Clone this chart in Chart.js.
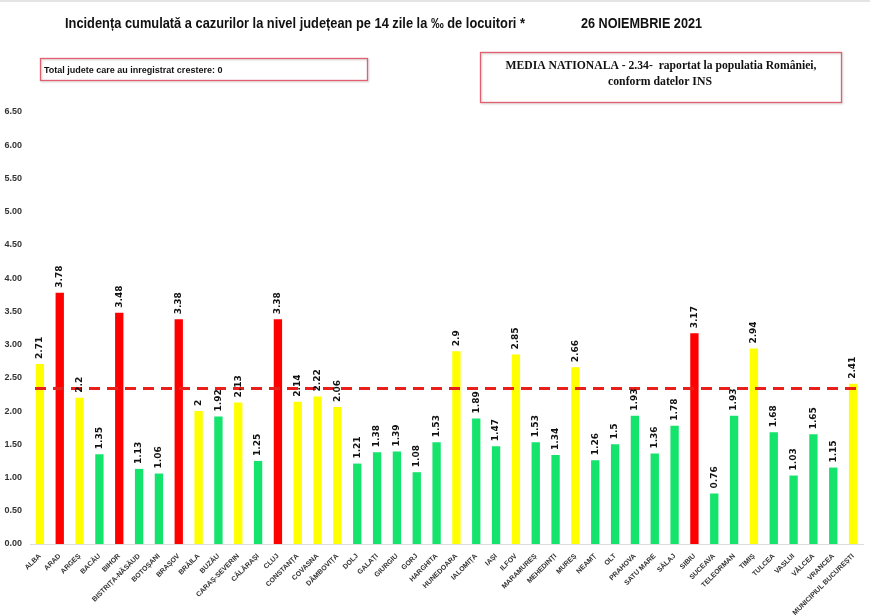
<!DOCTYPE html>
<html>
<head>
<meta charset="utf-8">
<script src="https://cdn.jsdelivr.net/npm/chart.js@4.4.1/dist/chart.umd.min.js"></script>
<style>
  html, body { margin: 0; padding: 0; background: #fff; }
  #wrap { width: 870px; height: 616px; position: relative; }
</style>
</head>
<body>
<div id="wrap"><canvas id="chart" width="870" height="616"></canvas></div>
<script>
// Judete (categories)
const counties = [
  'ALBA', 'ARAD', 'ARGEȘ', 'BACĂU', 'BIHOR', 'BISTRIȚA-NĂSĂUD', 'BOTOȘANI', 'BRAȘOV',
  'BRĂILA', 'BUZĂU', 'CARAȘ-SEVERIN', 'CĂLĂRAȘI', 'CLUJ', 'CONSTANȚA', 'COVASNA',
  'DÂMBOVIȚA', 'DOLJ', 'GALAȚI', 'GIURGIU', 'GORJ', 'HARGHITA', 'HUNEDOARA', 'IALOMIȚA',
  'IAȘI', 'ILFOV', 'MARAMUREȘ', 'MEHEDINȚI', 'MUREȘ', 'NEAMȚ', 'OLT', 'PRAHOVA',
  'SATU MARE', 'SĂLAJ', 'SIBIU', 'SUCEAVA', 'TELEORMAN', 'TIMIȘ', 'TULCEA', 'VASLUI',
  'VÂLCEA', 'VRANCEA', 'MUNICIPIUL BUCUREȘTI'
];

// Incidenta la 1000 de locuitori
const incidence = [
  2.71, 3.78, 2.2, 1.35, 3.48, 1.13, 1.06, 3.38,
  2, 1.92, 2.13, 1.25, 3.38, 2.14, 2.22,
  2.06, 1.21, 1.38, 1.39, 1.08, 1.53, 2.9, 1.89,
  1.47, 2.85, 1.53, 1.34, 2.66, 1.26, 1.5, 1.93,
  1.36, 1.78, 3.17, 0.76, 1.93, 2.94, 1.68, 1.03,
  1.65, 1.15, 2.41
];

const nationalAverage = 2.34;
const yTicks = { min: 0, max: 6.5, step: 0.5 };

const titleText = 'Incidența cumulată a cazurilor la nivel județean pe 14 zile la ‰ de locuitori *';
const dateText = '26 NOIEMBRIE 2021';
const increaseText = 'Total judete care au inregistrat crestere: 0';
const averageLines = ['MEDIA NATIONALA - 2.34-  raportat la populatia României,', 'conform datelor INS'];

const colors = {
  red: '#ff0000',
  yellow: '#ffff00',
  green: '#14e36c',
  tick: '#333333',
  box: '#e06070'
};

// Excel-style colouring by threshold
function barColor(v) {
  if (v >= 3) return colors.red;
  if (v >= 2) return colors.yellow;
  return colors.green;
}

// Draw text squeezed horizontally to a given width
function fitText(ctx, text, x, y, width, align) {
  const w = ctx.measureText(text).width;
  const sx = Math.min(1, width / w);
  ctx.save();
  ctx.translate(x, y);
  ctx.scale(sx, 1);
  ctx.textAlign = align || 'left';
  ctx.fillText(text, 0, 0);
  ctx.restore();
}

const headerPlugin = {
  id: 'header',
  afterDraw(chart) {
    const ctx = chart.ctx;
    ctx.save();

    // faint frame line at the top of the slide
    ctx.fillStyle = '#e4e4e4';
    ctx.fillRect(0, 0, 870, 2);

    ctx.fillStyle = '#111';
    ctx.textBaseline = 'alphabetic';
    ctx.font = 'bold 15px "Liberation Sans Narrow", sans-serif';
    fitText(ctx, titleText, 65, 28, 460);
    fitText(ctx, dateText, 581, 28, 121);

    // boxes
    ctx.save();
    ctx.shadowColor = 'rgba(0,0,0,0.18)';
    ctx.shadowBlur = 2;
    ctx.shadowOffsetX = 1;
    ctx.shadowOffsetY = 1;
    ctx.strokeStyle = colors.box;
    ctx.lineWidth = 1.3;
    ctx.strokeRect(40.5, 58.5, 327, 22);
    ctx.strokeRect(480.5, 52.5, 361, 50);
    ctx.restore();

    ctx.font = 'bold 9px "Liberation Sans Narrow", sans-serif';
    fitText(ctx, increaseText, 44, 73, 184);

    ctx.font = 'bold 12px "Liberation Serif", serif';
    fitText(ctx, averageLines[0], 661, 69, 311, 'center');
    fitText(ctx, averageLines[1], 660, 85, 104, 'center');
    ctx.restore();
  }
};

const avgLinePlugin = {
  id: 'avgLine',
  afterDatasetsDraw(chart) {
    const { ctx, chartArea, scales } = chart;
    const y = scales.y.getPixelForValue(nationalAverage);
    ctx.save();
    ctx.strokeStyle = '#e8201c';
    ctx.lineWidth = 3;
    ctx.setLineDash([11, 7]);
    ctx.beginPath();
    ctx.moveTo(chartArea.left + 5, y);
    ctx.lineTo(chartArea.right, y);
    ctx.stroke();
    ctx.restore();
  }
};

const valueLabelPlugin = {
  id: 'valueLabels',
  afterDraw(chart) {
    const ctx = chart.ctx;
    const meta = chart.getDatasetMeta(0);
    ctx.save();
    ctx.fillStyle = '#111';
    ctx.font = 'bold 9px "DejaVu Sans", sans-serif';
    ctx.textAlign = 'left';
    ctx.textBaseline = 'middle';
    meta.data.forEach((bar, i) => {
      ctx.save();
      ctx.translate(bar.x, bar.y - 5);
      ctx.rotate(-Math.PI / 2);
      ctx.fillText(String(incidence[i]), 0, 0);
      ctx.restore();
    });
    ctx.restore();
  }
};

new Chart(document.getElementById('chart'), {
  type: 'bar',
  data: {
    labels: counties,
    datasets: [{
      data: incidence,
      backgroundColor: incidence.map(barColor),
      borderWidth: 0,
      barPercentage: 0.42,
      categoryPercentage: 1
    }]
  },
  options: {
    responsive: false,
    animation: false,
    layout: { padding: { top: 112, right: 7, bottom: 0, left: 0 } },
    scales: {
      x: {
        grid: { display: false },
        border: { display: true, color: '#dddddd', width: 1 },
        afterFit: (scale) => { scale.height = 72; },
        ticks: {
          autoSkip: false,
          maxRotation: 45,
          minRotation: 45,
          padding: 0,
          color: colors.tick,
          font: { family: '"Liberation Sans", sans-serif', size: 7, weight: 'bold' }
        }
      },
      y: {
        min: yTicks.min,
        max: yTicks.max,
        grid: { display: false },
        border: { display: false },
        afterFit: (scale) => { scale.width = 30; },
        ticks: {
          stepSize: yTicks.step,
          padding: 0,
          color: colors.tick,
          font: { family: '"Liberation Sans", sans-serif', size: 9, weight: 'bold' },
          callback: (v) => Number(v).toFixed(2)
        }
      }
    },
    plugins: {
      legend: { display: false },
      tooltip: { enabled: false }
    }
  },
  plugins: [avgLinePlugin, valueLabelPlugin, headerPlugin]
});
</script>
</body>
</html>
